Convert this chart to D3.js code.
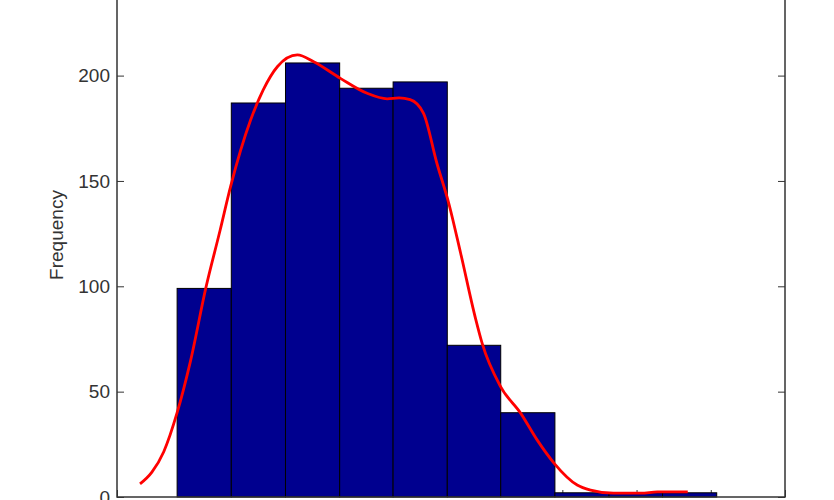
<!DOCTYPE html>
<html>
<head>
<meta charset="utf-8">
<script src="https://cdn.jsdelivr.net/npm/d3@7"></script>
<style>
  html, body { margin: 0; padding: 0; background: #fff; }
  svg { display: block; }
  .axis text { font-family: "Liberation Sans", Arial, sans-serif; font-size: 19px; fill: #333; }
  .axis line, .axis path { stroke: #333; }
</style>
</head>
<body>
<svg id="chart" width="834" height="500"></svg>
<script>
// histogram bin edges (x units) and counts
const binEdges = [0.81, 1.54, 2.27, 3.0, 3.72, 4.45, 5.17, 5.9, 6.63, 7.35, 8.08];
const counts   = [99, 187, 206, 194, 197, 72, 40, 2, 2, 2];

// fitted density curve, scaled to counts
const curveX = [0.31, 0.47, 0.63, 0.81, 0.99, 1.20, 1.39, 1.53, 1.80, 1.97, 2.16, 2.43, 2.65, 3.01, 3.37, 3.64,
                3.80, 3.95, 4.13, 4.31, 4.47, 4.63, 4.83, 4.92, 5.17, 5.44, 5.66, 5.89, 6.20, 6.38, 6.69, 7.06, 7.28, 7.69];
const curveY = [6.2, 11.8, 21.5, 40.0, 64.5, 99.7, 126.7, 147.3, 178.9, 193.2, 204.2, 209.8, 206.6, 198.7, 191.6, 189.0,
                189.4, 188.6, 182.1, 158.4, 139.4, 115.7, 84.8, 72.9, 52.3, 39.7, 27.1, 16.0, 5.7, 3.3, 1.8, 1.8, 2.4, 2.4];

const xTicks = [0, 1, 2, 3, 4, 5, 6, 7, 8, 9];
const yTicks = [0, 50, 100, 150, 200];

const svg = d3.select('#chart');
const left = 117, right = 785, bottom = 497;
const x = d3.scaleLinear().domain([0, 9]).range([left, right]);
const y = d3.scaleLinear().domain([0, 250]).range([bottom, bottom - 250 * 2.107]);
const plotTop = y(250);

// ticks (under the bars, like the original)
svg.append('g')
  .attr('class', 'axis')
  .attr('transform', `translate(${left},0)`)
  .call(d3.axisLeft(y).tickValues(yTicks).tickSizeInner(-7).tickSizeOuter(0).tickPadding(7))
  .call(g => g.select('.domain').remove());

svg.append('g')
  .attr('class', 'axis')
  .attr('transform', `translate(${right},0)`)
  .call(d3.axisRight(y).tickValues(yTicks).tickSizeInner(-7).tickSizeOuter(0).tickFormat(''))
  .call(g => g.select('.domain').remove());

svg.append('g')
  .attr('class', 'axis')
  .attr('transform', `translate(0,${bottom})`)
  .call(d3.axisBottom(x).tickValues(xTicks).tickSizeInner(-7).tickSizeOuter(0).tickFormat(''))
  .call(g => g.select('.domain').remove());

// bars
const bins = counts.map((c, i) => ({ x0: binEdges[i], x1: binEdges[i + 1], c }));
svg.append('g')
  .selectAll('rect')
  .data(bins)
  .join('rect')
  .attr('x', d => x(d.x0))
  .attr('width', d => x(d.x1) - x(d.x0))
  .attr('y', d => y(d.c))
  .attr('height', d => y(0) - y(d.c))
  .attr('fill', '#00008F')
  .attr('stroke', '#000')
  .attr('stroke-width', 1);

// density curve
const pts = curveX.map((v, i) => [v, curveY[i]]);
svg.append('path')
  .datum(pts)
  .attr('fill', 'none')
  .attr('stroke', '#FF0000')
  .attr('stroke-width', 2.8)
  .attr('stroke-linejoin', 'round')
  .attr('d', d3.line().x(d => x(d[0])).y(d => y(d[1])).curve(d3.curveMonotoneX));

// axes box
svg.append('rect')
  .attr('x', left)
  .attr('y', plotTop)
  .attr('width', right - left)
  .attr('height', bottom - plotTop)
  .attr('fill', 'none')
  .attr('stroke', '#333')
  .attr('stroke-width', 1.5);

// y label
svg.append('text')
  .attr('transform', 'translate(63,235) rotate(-90)')
  .attr('text-anchor', 'middle')
  .style('font-family', '"Liberation Sans", Arial, sans-serif')
  .style('font-size', '19px')
  .style('fill', '#333')
  .text('Frequency');
</script>
</body>
</html>
